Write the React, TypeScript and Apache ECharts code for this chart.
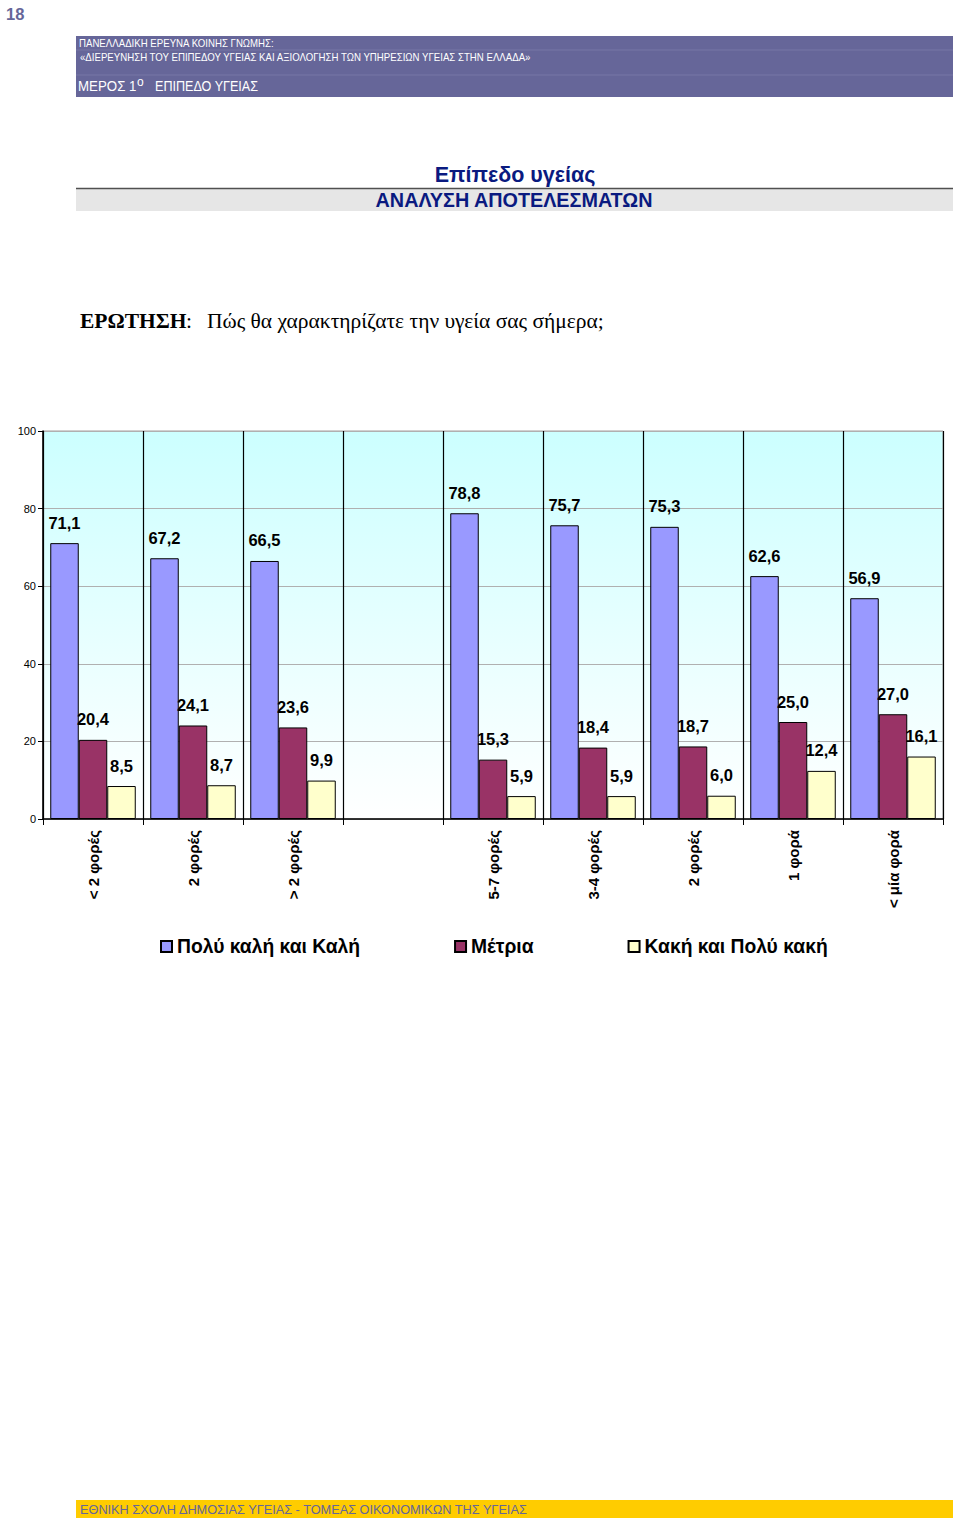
import React, { useEffect, useRef } from "react";
import * as echarts from "echarts";

const categories = ["< 2 φορές", "2 φορές", "> 2 φορές", "", "5-7 φορές", "3-4 φορές", "2 φορές", "1 φορά", "< μία φορά"];
const seriesNames = ["Πολύ καλή και Καλή", "Μέτρια", "Κακή και Πολύ κακή"];
const goodValues = [71.1, 67.2, 66.5, null, 78.8, 75.7, 75.3, 62.6, 56.9];
const moderateValues = [20.4, 24.1, 23.6, null, 15.3, 18.4, 18.7, 25.0, 27.0];
const badValues = [8.5, 8.7, 9.9, null, 5.9, 5.9, 6.0, 12.4, 16.1];
const yTicks = [0, 20, 40, 60, 80, 100];

const colors = ["#9999ff", "#993366", "#ffffcc"];
const HDR = "#666699";
const NAVY = "#0a1a80";
const SANS = "Liberation Sans, Arial, sans-serif";
const SERIF = "Liberation Serif, Times New Roman, serif";

export default function App() {
  const ref = useRef<HTMLDivElement>(null);
  useEffect(() => {
    document.body.style.margin = "0";
    const chart = echarts.init(ref.current!, null, { renderer: "svg" });
    const valueData = [goodValues, moderateValues, badValues];
    const fmt = (p: any) => (p.value == null ? "" : Number(p.value).toFixed(1).replace(".", ","));
    chart.setOption({
      animation: false,
      backgroundColor: "#ffffff",
      textStyle: { fontFamily: SANS },
      grid: {
        left: 43,
        top: 431,
        width: 900,
        height: 388,
        show: true,
        borderColor: "#a0a0a0",
        borderWidth: 1,
        backgroundColor: new echarts.graphic.LinearGradient(0, 0, 0, 1, [
          { offset: 0, color: "#ccffff" },
          { offset: 1, color: "#ffffff" },
        ]),
      },
      legend: {
        left: 160,
        top: 937,
        padding: 0,
        itemWidth: 11,
        itemHeight: 11,
        itemGap: 94,
        icon: "rect",
        textStyle: { fontSize: 19.3, fontWeight: "bold", color: "#000", fontFamily: SANS },
        data: seriesNames,
      },
      xAxis: {
        type: "category",
        data: categories,
        boundaryGap: true,
        axisLine: { lineStyle: { color: "#000", width: 1.5 } },
        axisTick: { show: true, length: 6, lineStyle: { color: "#000" } },
        splitLine: { show: true, lineStyle: { color: "#000", width: 1.2 } },
        axisLabel: {
          rotate: 90,
          margin: 11,
          interval: 0,
          fontSize: 15,
          fontWeight: "bold",
          color: "#000",
        },
      },
      yAxis: {
        type: "value",
        min: yTicks[0],
        max: yTicks[yTicks.length - 1],
        interval: 20,
        axisLine: { show: true, lineStyle: { color: "#000", width: 1.5 } },
        axisTick: { show: true, length: 5, lineStyle: { color: "#000" } },
        splitLine: { show: true, lineStyle: { color: "#b0b0b0", width: 1 } },
        axisLabel: { fontSize: 11, color: "#000", margin: 7 },
      },
      series: seriesNames.map((name, i) => ({
        name,
        type: "bar",
        data: valueData[i],
        barWidth: "28.5%",
        barGap: "0%",
        itemStyle: { color: colors[i], borderColor: "#000", borderWidth: 1 },
        label: {
          show: true,
          position: "top",
          distance: 12,
          formatter: fmt,
          fontSize: 16.5,
          fontWeight: "bold",
          color: "#000",
        },
      })),
      graphic: [
        { type: "text", left: 6, top: 5, style: { text: "18", fontSize: 16.5, fontWeight: "bold", fill: HDR, fontFamily: SANS } },
        { type: "rect", shape: { x: 76, y: 36, width: 877, height: 61 }, style: { fill: HDR } },
        { type: "line", shape: { x1: 76, y1: 50, x2: 953, y2: 50 }, style: { stroke: "#7676a6", lineWidth: 1 } },
        { type: "line", shape: { x1: 76, y1: 75, x2: 953, y2: 75 }, style: { stroke: "#7676a6", lineWidth: 1 } },
        { type: "text", x: 79, y: 43, scaleX: 0.92, style: { text: "ΠΑΝΕΛΛΑΔΙΚΗ ΕΡΕΥΝΑ ΚΟΙΝΗΣ ΓΝΩΜΗΣ:", fontSize: 10.5, fill: "#ffffff", verticalAlign: "middle", fontFamily: SANS } },
        { type: "text", x: 80, y: 57, scaleX: 0.92, style: { text: "«ΔΙΕΡΕΥΝΗΣΗ ΤΟΥ ΕΠΙΠΕΔΟΥ ΥΓΕΙΑΣ ΚΑΙ ΑΞΙΟΛΟΓΗΣΗ ΤΩΝ ΥΠΗΡΕΣΙΩΝ ΥΓΕΙΑΣ ΣΤΗΝ ΕΛΛΑΔΑ»", fontSize: 10.5, fill: "#ffffff", verticalAlign: "middle", fontFamily: SANS } },
        { type: "text", x: 78, y: 86, scaleX: 0.95, style: { text: "ΜΕΡΟΣ 1", fontSize: 14, fill: "#ffffff", verticalAlign: "middle", fontFamily: SANS } },
        { type: "text", x: 137, y: 82, style: { text: "ο", fontSize: 12, fill: "#ffffff", verticalAlign: "middle", fontFamily: SANS } },
        { type: "text", x: 155, y: 86, scaleX: 0.9, style: { text: "ΕΠΙΠΕΔΟ ΥΓΕΙΑΣ", fontSize: 14, fill: "#ffffff", verticalAlign: "middle", fontFamily: SANS } },
        { type: "text", x: 515, y: 175, style: { text: "Επίπεδο υγείας", fontSize: 21.5, fontWeight: "bold", fill: NAVY, align: "center", verticalAlign: "middle", fontFamily: SANS } },
        { type: "rect", shape: { x: 76, y: 189, width: 877, height: 22 }, style: { fill: "#e6e6e6" } },
        { type: "line", shape: { x1: 76, y1: 188.5, x2: 953, y2: 188.5 }, style: { stroke: "#505050", lineWidth: 1.5 } },
        { type: "text", x: 514, y: 200, style: { text: "ΑΝΑΛΥΣΗ ΑΠΟΤΕΛΕΣΜΑΤΩΝ", fontSize: 19.8, fontWeight: "bold", fill: NAVY, align: "center", verticalAlign: "middle", fontFamily: SANS } },
        { type: "text", x: 80, y: 321, style: { text: "ΕΡΩΤΗΣΗ", fontSize: 21.5, fontWeight: "bold", fill: "#000", verticalAlign: "middle", fontFamily: SERIF } },
        { type: "text", x: 186, y: 321, style: { text: ":", fontSize: 21.5, fill: "#000", verticalAlign: "middle", fontFamily: SERIF } },
        { type: "text", x: 207, y: 321, style: { text: "Πώς θα χαρακτηρίζατε την υγεία σας σήμερα;", fontSize: 21.5, fill: "#000", verticalAlign: "middle", fontFamily: SERIF } },
        { type: "rect", shape: { x: 76, y: 1500, width: 877, height: 18 }, style: { fill: "#ffcc00" } },
        { type: "text", x: 80, y: 1509, scaleX: 0.98, style: { text: "ΕΘΝΙΚΗ ΣΧΟΛΗ ΔΗΜΟΣΙΑΣ ΥΓΕΙΑΣ - ΤΟΜΕΑΣ ΟΙΚΟΝΟΜΙΚΩΝ ΤΗΣ ΥΓΕΙΑΣ", fontSize: 13, fill: HDR, verticalAlign: "middle", fontFamily: SANS } },
      ],
    });
    return () => chart.dispose();
  }, []);
  return <div ref={ref} style={{ width: 960, height: 1522 }} />;
}
